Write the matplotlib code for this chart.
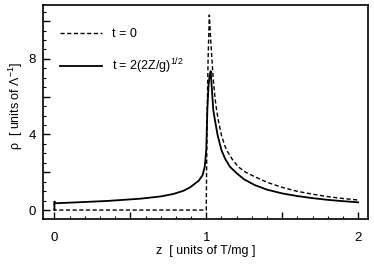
import matplotlib
matplotlib.use('Agg')
import matplotlib.pyplot as plt
from matplotlib.ticker import MultipleLocator, FuncFormatter

plt.rcParams['font.family'] = ['Liberation Sans', 'DejaVu Sans']
plt.rcParams['mathtext.fontset'] = 'custom'
plt.rcParams['mathtext.rm'] = 'Liberation Sans'
plt.rcParams['mathtext.it'] = 'Liberation Sans:italic'

# t = 0 curve (dashed)
z_t0 = [0.0, 0.0, 0.2, 0.4, 0.6, 0.8, 1.0, 1.002, 1.006, 1.012, 1.02, 1.03, 1.045,
        1.058, 1.068, 1.079, 1.10, 1.12, 1.134, 1.17, 1.21, 1.26, 1.32, 1.4, 1.5, 1.6,
        1.7, 1.8, 1.9, 2.0]
rho_t0 = [0.45, 0.0, 0.0, 0.0, 0.0, 0.0, 0.0, 2.0, 5.0, 8.0, 10.32, 8.9, 7.0,
          5.9, 5.3, 4.76, 3.95, 3.45, 3.17, 2.7, 2.29, 2.0, 1.76, 1.47, 1.2, 0.99,
          0.84, 0.71, 0.61, 0.53]

# t = 2(2Z/g)^(1/2) curve (solid)
z_t1 = [0.0, 0.0, 0.01, 0.125, 0.345, 0.564, 0.70, 0.783, 0.85, 0.893, 0.95, 0.976, 0.99,
        1.0, 1.007, 1.015, 1.022, 1.029, 1.037, 1.046, 1.057, 1.075, 1.10, 1.125, 1.156,
        1.2, 1.25, 1.32, 1.4, 1.5, 1.6, 1.7, 1.8, 1.9, 2.0]
rho_t1 = [0.0, 0.45, 0.36, 0.4, 0.48, 0.6, 0.72, 0.85, 1.02, 1.2, 1.55, 1.85, 2.3,
          3.2, 5.3, 6.6, 7.1, 7.35, 6.4, 5.3, 4.76, 3.95, 3.17, 2.7, 2.29,
          1.95, 1.62, 1.32, 1.08, 0.88, 0.74, 0.63, 0.54, 0.47, 0.41]

fig = plt.figure(figsize=(3.74, 2.64), dpi=100)
ax = fig.add_axes([0.115, 0.170, 0.869, 0.811])

ax.plot(z_t0, rho_t0, color='black', lw=1.0, dashes=(3, 1.8), label='t = 0')
ax.plot(z_t1, rho_t1, color='black', lw=1.3, label='t = 2(2Z/g)$^{1/2}$')

ax.set_xlim(-0.075, 2.065)
ax.set_ylim(-0.48, 10.85)

ax.xaxis.set_major_locator(MultipleLocator(0.5))
ax.xaxis.set_minor_locator(MultipleLocator(0.1))
ax.yaxis.set_major_locator(MultipleLocator(2))
ax.yaxis.set_minor_locator(MultipleLocator(0.5))
ax.xaxis.set_major_formatter(FuncFormatter(lambda v, p: f'{v:.0f}' if abs(v - round(v)) < 1e-6 else ''))
ax.yaxis.set_major_formatter(FuncFormatter(lambda v, p: f'{v:.0f}' if abs(v / 4 - round(v / 4)) < 1e-6 else ''))

ax.tick_params(which='major', direction='in', length=5, width=1.0, labelsize=9.5,
               top=False, right=False)
ax.tick_params(axis='x', which='major', pad=9)
ax.tick_params(axis='y', which='major', pad=5)
ax.tick_params(which='minor', direction='in', length=2.5, width=0.8, top=False, right=False)
for s in ax.spines.values():
    s.set_linewidth(1.2)

ax.set_xlabel('z  [ units of T/mg ]', fontsize=9, labelpad=1)
ax.set_ylabel('ρ  [ units of Λ$^{-1}$]', fontsize=9)
ax.yaxis.set_label_coords(-0.055, 0.53)

ax.legend(loc='upper left', bbox_to_anchor=(0.052, 0.893), frameon=False, fontsize=9,
          handlelength=3.4, handletextpad=0.8, labelspacing=1.35, borderpad=0, borderaxespad=0)

fig.savefig('out.png', dpi=100)
